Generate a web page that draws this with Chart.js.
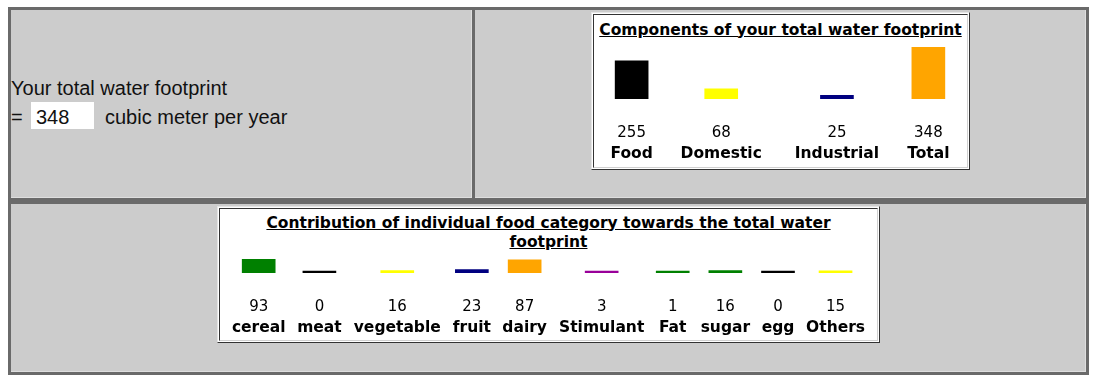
<!DOCTYPE html>
<html>
<head>
<meta charset="utf-8">
<title>Water footprint</title>
<script src="https://cdn.jsdelivr.net/npm/chart.js"></script>
<style>
  body { margin: 0; background: #fff; width: 1099px; height: 381px; position: relative; overflow: hidden; }
  .frame { position: absolute; left: 8px; top: 7px; width: 1081px; height: 368px; background: #6a6a6a; }
  .cell { position: absolute; background: #cccccc; box-sizing: border-box; border-right: 1px solid #dedede; border-bottom: 1px solid #dedede; }
  .txt { position: absolute; font-family: "Liberation Sans", Arial, sans-serif; font-size: 20px; line-height: 23px; color: #111; white-space: nowrap; }
  .valbox { position: absolute; left: 31px; top: 102px; width: 63px; height: 27px; background: #fff; }
  .box { position: absolute; box-sizing: border-box; background: #fff; border: 1px solid; border-color: #e4e4e4 #333 #333 #e4e4e4; }
  .box .inner { position: absolute; left: 1px; top: 1px; right: 1px; bottom: 1px; border: 1px solid; border-color: #333 #d0d0d0 #d0d0d0 #333; }
  .title { position: absolute; left: 0; right: 0; text-align: center; font-family: "DejaVu Sans", Verdana, sans-serif; font-weight: bold; font-size: 15.5px; line-height: 19px; text-decoration: underline; color: #000; }
  .chartwrap { position: absolute; }
</style>
</head>
<body>
<div class="frame"></div>
<div class="cell" style="left:11px; top:10px; width:461px; height:188px;"></div>
<div class="cell" style="left:475px; top:10px; width:611px; height:188px;"></div>
<div class="cell" style="left:11px; top:204px; width:1075px; height:168px;"></div>

<div class="txt" style="left:11px; top:76.5px;">Your total water footprint</div>
<div class="txt" style="left:11px; top:105.5px;">=</div>
<div class="valbox"></div>
<div class="txt" style="left:36px; top:105.5px;">348</div>
<div class="txt" style="left:105px; top:105.5px;">cubic meter per year</div>

<div class="box" style="left:591px; top:12px; width:379px; height:158px;"><div class="inner"></div>
  <div class="title" style="top:7.5px;">Components of your total water footprint</div>
</div>
<div class="chartwrap" style="left:599px; top:42px; width:362px; height:124px;"><canvas id="totalChart"></canvas></div>

<div class="box" style="left:217px; top:206px; width:663px; height:137px;"><div class="inner"></div>
  <div class="title" style="top:6.5px; left:30px; right:30px;">Contribution of individual food category towards the total water footprint</div>
</div>
<div class="chartwrap" style="left:226px; top:254px; width:645px; height:86px;"><canvas id="foodChart"></canvas></div>

<script>
// Components of the total footprint
const totalCategories = ['Food', 'Domestic', 'Industrial', 'Total'];
const totalValues = [255, 68, 25, 348];
const totalColors = ['#000000', '#ffff00', '#000080', '#ffa500'];

// Food categories
const foodCategories = ['cereal', 'meat', 'vegetable', 'fruit', 'dairy', 'Stimulant', 'Fat', 'sugar', 'egg', 'Others'];
const foodValues = [93, 0, 16, 23, 87, 3, 1, 16, 0, 15];
const foodColors = ['#008000', '#000000', '#ffff00', '#000080', '#ffa500', '#990099', '#008000', '#008000', '#000000', '#ffff00'];

Chart.defaults.font.family = '"DejaVu Sans", Verdana, sans-serif';
Chart.defaults.color = '#000';

const BAR_W = 33;
const CELL_PAD = 10;
const VALUE_FONT = { size: 15 };
const NAME_FONT = { size: 15.5, weight: 'bold' };
const VALUE_GAP = 23;   // space between bar base and value row
const VALUE_PAD = 2;
const measureCtx = document.createElement('canvas').getContext('2d');

function textWidth(text, font) {
    measureCtx.font = font;
    return measureCtx.measureText(text).width;
}

// columns sized by their content, like the cells of a table
function columnLayout(names, values) {
    const centers = [];
    let x = 0;
    names.forEach((name, i) => {
        const w = Math.max(
            BAR_W,
            textWidth(String(values[i]), VALUE_FONT.size + 'px "DejaVu Sans"'),
            textWidth(name, 'bold ' + NAME_FONT.size + 'px "DejaVu Sans"')
        ) + CELL_PAD;
        centers.push(x + w / 2);
        x += w;
    });
    return { centers, total: x };
}

function buildChart(id, names, values, colors) {
    const cols = columnLayout(names, values);
    const setTicks = axis => { axis.ticks = cols.centers.map(v => ({ value: v })); };
    const noPad = axis => { axis.paddingLeft = 0; axis.paddingRight = 0; };
    const tickOpts = { autoSkip: false, maxRotation: 0, minRotation: 0 };

    new Chart(document.getElementById(id), {
        type: 'bar',
        data: {
            datasets: [{
                data: values.map((v, i) => ({ x: cols.centers[i], y: v })),
                backgroundColor: colors,
                barThickness: BAR_W,
                minBarLength: 2,
                xAxisID: 'x',
                yAxisID: 'y'
            }]
        },
        options: {
            responsive: true,
            maintainAspectRatio: false,
            animation: false,
            layout: { padding: { top: 5, bottom: 2.4, left: 0, right: 0 } },
            plugins: {
                legend: { display: false },
                tooltip: { enabled: false }
            },
            scales: {
                x: {
                    type: 'linear', position: 'bottom', weight: 0, offset: false,
                    min: 0, max: cols.total,
                    afterBuildTicks: setTicks,
                    // keep the full height even when the canvas is short
                    afterFit: axis => {
                        noPad(axis);
                        axis.height = VALUE_GAP + 2 * VALUE_PAD + VALUE_FONT.size * 1.2;
                    },
                    border: { display: false },
                    grid: { display: true, offset: false, drawOnChartArea: false, drawTicks: true, tickLength: VALUE_GAP, color: 'rgba(0,0,0,0)' },
                    ticks: { ...tickOpts, padding: VALUE_PAD, font: VALUE_FONT, callback: (v, i) => String(values[i]) }
                },
                xName: {
                    type: 'linear', position: 'bottom', weight: 1, offset: false,
                    min: 0, max: cols.total,
                    afterBuildTicks: setTicks, afterFit: noPad,
                    border: { display: false },
                    grid: { display: false, offset: false, drawTicks: false },
                    ticks: { ...tickOpts, padding: 0.5, font: NAME_FONT, callback: (v, i) => names[i] }
                },
                y: { display: false, min: 0, max: Math.max(...values) }
            }
        }
    });
}

buildChart('totalChart', totalCategories, totalValues, totalColors);
buildChart('foodChart', foodCategories, foodValues, foodColors);
</script>
</body>
</html>
